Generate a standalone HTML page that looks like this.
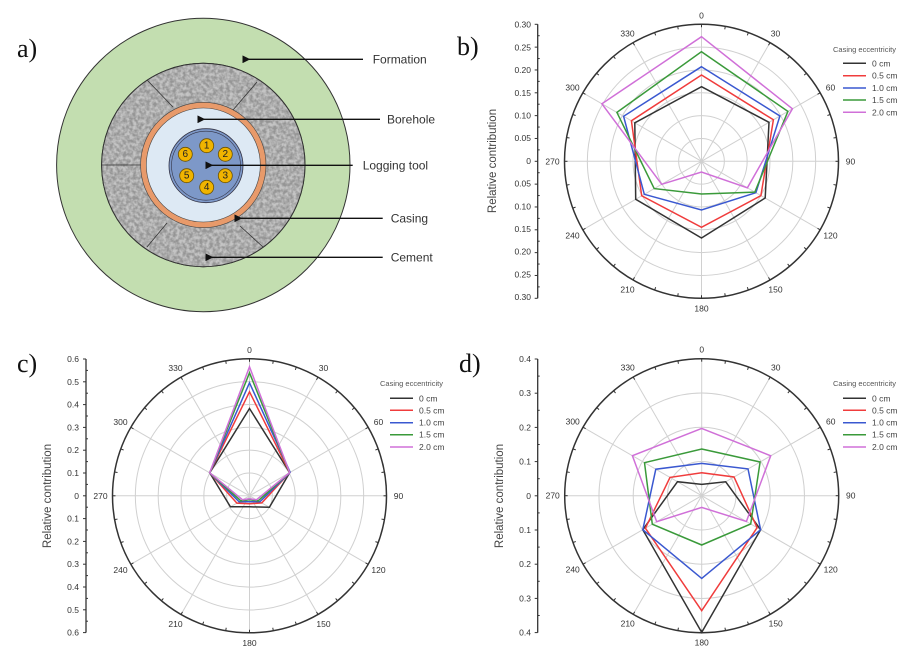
<!DOCTYPE html>
<html><head><meta charset="utf-8"><style>
html,body{margin:0;padding:0;background:#fff}
svg{display:block}
text{font-family:"Liberation Sans",sans-serif}
.ser{font-family:"Liberation Serif",serif;font-size:26px;fill:#111}
.al{font-size:8.5px;fill:#333;text-anchor:middle;dominant-baseline:central}
.tl{font-size:8.5px;fill:#333;text-anchor:end;dominant-baseline:central}
.yl{font-size:11.5px;fill:#444;text-anchor:middle}
.lt{font-size:7.5px;fill:#555}
.li{font-size:8.5px;fill:#444;dominant-baseline:central}
.an{font-size:12px;fill:#333;dominant-baseline:central}
</style></head><body>
<svg id="s" width="918" height="653" viewBox="0 0 918 653" xmlns="http://www.w3.org/2000/svg">
<defs>
<filter id="noise" x="0" y="0" width="100%" height="100%">
<feTurbulence type="fractalNoise" baseFrequency="0.3" numOctaves="2" seed="3"/>
<feColorMatrix type="matrix" values="0 0 0 0 0.3  0 0 0 0 0.3  0 0 0 0 0.3  0 0 0 -2.4 1.7"/>
</filter>
<clipPath id="cem"><path d="M101.7 165a101.7 101.7 0 1 0 203.4 0a101.7 101.7 0 1 0 -203.4 0Z"/></clipPath>
<marker id="ah" markerWidth="6" markerHeight="6" refX="1" refY="3" orient="auto"><path d="M6 0L0 3L6 6Z" fill="#111"/></marker>
</defs>
<!-- Panel a -->
<text class="ser" x="17" y="57">a)</text>
<circle cx="203.3" cy="165" r="146.7" fill="#c3deb0" stroke="#333" stroke-width="1"/>
<circle cx="203.3" cy="165" r="101.7" fill="#b5b5b5" stroke="#333" stroke-width="1"/>
<g clip-path="url(#cem)"><rect x="100" y="62" width="206" height="206" fill="#c4c4c4"/><rect x="100" y="62" width="206" height="206" filter="url(#noise)"/></g>
<g stroke="#333" stroke-width="0.8">
<line x1="101.7" y1="165" x2="141" y2="165"/>
<line x1="147" y1="80" x2="173" y2="107"/>
<line x1="257" y1="82" x2="233" y2="110"/>
<line x1="147" y1="247" x2="167" y2="223"/>
<line x1="263" y1="247" x2="240" y2="226"/>
</g>
<circle cx="203.3" cy="165" r="101.7" fill="none" stroke="#333" stroke-width="1"/>
<circle cx="203.3" cy="165" r="62.7" fill="#e89a6a" stroke="#444" stroke-width="0.6"/>
<circle cx="203.3" cy="165" r="57" fill="#dde9f4" stroke="#444" stroke-width="0.6"/>
<circle cx="206" cy="165.7" r="37" fill="#7d98c8" stroke="#334" stroke-width="0.8"/>
<circle cx="206" cy="165.7" r="34.5" fill="none" stroke="#334" stroke-width="0.6"/>
<g fill="#f0b400" stroke="#6a5000" stroke-width="0.8">
<circle cx="206.7" cy="145.7" r="7"/><circle cx="225.3" cy="154.3" r="7"/><circle cx="225.3" cy="175.7" r="7"/>
<circle cx="206.7" cy="187.3" r="7"/><circle cx="186.7" cy="175.7" r="7"/><circle cx="185.3" cy="154.3" r="7"/>
</g>
<g font-size="10" fill="#222" text-anchor="middle" dominant-baseline="central">
<text x="206.7" y="146">1</text><text x="225.3" y="154.6">2</text><text x="225.3" y="176">3</text>
<text x="206.7" y="187.6">4</text><text x="186.7" y="176">5</text><text x="185.3" y="154.6">6</text>
</g>
<g stroke="#111" stroke-width="1.3">
<line x1="363" y1="59.3" x2="249" y2="59.3" marker-end="url(#ah)"/>
<line x1="380" y1="119.3" x2="204" y2="119.3" marker-end="url(#ah)"/>
<line x1="352.7" y1="165.3" x2="212" y2="165.3" marker-end="url(#ah)"/>
<line x1="382.7" y1="218.3" x2="241" y2="218.3" marker-end="url(#ah)"/>
<line x1="382.7" y1="257.3" x2="212" y2="257.3" marker-end="url(#ah)"/>
</g>
<text class="an" x="372.7" y="59.5">Formation</text>
<text class="an" x="387" y="119.5">Borehole</text>
<text class="an" x="362.7" y="165.5">Logging tool</text>
<text class="an" x="390.7" y="218.5">Casing</text>
<text class="an" x="390.7" y="257.5">Cement</text>

<!-- Panel labels -->
<text class="ser" x="457" y="55">b)</text>
<text class="ser" x="17" y="372">c)</text>
<text class="ser" x="459" y="372">d)</text>

<g id="gb" transform="translate(701.5,161.3)"></g>
<g id="gc" transform="translate(249.5,495.8)"></g>
<g id="gd" transform="translate(701.7,495.7)"></g>

<g transform="translate(701.5,161.3)">
<text class="al" x="0" y="-146">0</text><text class="al" x="74" y="-128">30</text><text class="al" x="129" y="-74">60</text><text class="al" x="149" y="0">90</text><text class="al" x="129" y="74">120</text><text class="al" x="74" y="128">150</text><text class="al" x="0" y="147">180</text><text class="al" x="-74" y="128">210</text><text class="al" x="-129" y="74">240</text><text class="al" x="-149" y="0">270</text><text class="al" x="-129" y="-74">300</text><text class="al" x="-74" y="-128">330</text>
</g>
<g transform="translate(249.5,495.8)">
<text class="al" x="0" y="-146">0</text><text class="al" x="74" y="-128">30</text><text class="al" x="129" y="-74">60</text><text class="al" x="149" y="0">90</text><text class="al" x="129" y="74">120</text><text class="al" x="74" y="128">150</text><text class="al" x="0" y="147">180</text><text class="al" x="-74" y="128">210</text><text class="al" x="-129" y="74">240</text><text class="al" x="-149" y="0">270</text><text class="al" x="-129" y="-74">300</text><text class="al" x="-74" y="-128">330</text>
</g>
<g transform="translate(701.7,495.7)">
<text class="al" x="0" y="-146">0</text><text class="al" x="74" y="-128">30</text><text class="al" x="129" y="-74">60</text><text class="al" x="149" y="0">90</text><text class="al" x="129" y="74">120</text><text class="al" x="74" y="128">150</text><text class="al" x="0" y="147">180</text><text class="al" x="-74" y="128">210</text><text class="al" x="-129" y="74">240</text><text class="al" x="-149" y="0">270</text><text class="al" x="-129" y="-74">300</text><text class="al" x="-74" y="-128">330</text>
</g>

<g>
<text class="tl" x="531" y="24.7">0.30</text><text class="tl" x="531" y="47.4">0.25</text><text class="tl" x="531" y="70.1">0.20</text><text class="tl" x="531" y="92.8">0.15</text><text class="tl" x="531" y="115.5">0.10</text><text class="tl" x="531" y="138.2">0.05</text><text class="tl" x="531" y="161">0</text><text class="tl" x="531" y="183.6">0.05</text><text class="tl" x="531" y="206.3">0.10</text><text class="tl" x="531" y="229">0.15</text><text class="tl" x="531" y="251.7">0.20</text><text class="tl" x="531" y="274.4">0.25</text><text class="tl" x="531" y="297.1">0.30</text>
</g>
<g>
<text class="tl" x="79" y="359">0.6</text><text class="tl" x="79" y="381.8">0.5</text><text class="tl" x="79" y="404.6">0.4</text><text class="tl" x="79" y="427.4">0.3</text><text class="tl" x="79" y="450.2">0.2</text><text class="tl" x="79" y="473">0.1</text><text class="tl" x="79" y="495.8">0</text><text class="tl" x="79" y="518.6">0.1</text><text class="tl" x="79" y="541.4">0.2</text><text class="tl" x="79" y="564.2">0.3</text><text class="tl" x="79" y="587">0.4</text><text class="tl" x="79" y="609.8">0.5</text><text class="tl" x="79" y="632.6">0.6</text>
</g>
<g>
<text class="tl" x="531" y="359">0.4</text><text class="tl" x="531" y="393.2">0.3</text><text class="tl" x="531" y="427.4">0.2</text><text class="tl" x="531" y="461.6">0.1</text><text class="tl" x="531" y="495.8">0</text><text class="tl" x="531" y="530">0.1</text><text class="tl" x="531" y="564.2">0.2</text><text class="tl" x="531" y="598.4">0.3</text><text class="tl" x="531" y="632.6">0.4</text>
</g>
<text class="yl" transform="translate(496,161) rotate(-90)">Relative contribution</text>
<text class="yl" transform="translate(51,496) rotate(-90)">Relative contribution</text>
<text class="yl" transform="translate(503,496) rotate(-90)">Relative contribution</text>

<g id="lb" transform="translate(833,52)">
<text class="lt" x="0" y="0">Casing eccentricity</text>
<text class="li" x="39" y="11.3">0 cm</text><text class="li" x="39" y="23.7">0.5 cm</text><text class="li" x="39" y="36">1.0 cm</text><text class="li" x="39" y="48">1.5 cm</text><text class="li" x="39" y="60.3">2.0 cm</text>
</g>
<g id="lc" transform="translate(380,386)">
<text class="lt" x="0" y="0">Casing eccentricity</text>
<text class="li" x="39" y="12.3">0 cm</text><text class="li" x="39" y="24.3">0.5 cm</text><text class="li" x="39" y="36.7">1.0 cm</text><text class="li" x="39" y="48.7">1.5 cm</text><text class="li" x="39" y="61">2.0 cm</text>
</g>
<g id="ld" transform="translate(833,386)">
<text class="lt" x="0" y="0">Casing eccentricity</text>
<text class="li" x="39" y="12.3">0 cm</text><text class="li" x="39" y="24.3">0.5 cm</text><text class="li" x="39" y="36.7">1.0 cm</text><text class="li" x="39" y="48.7">1.5 cm</text><text class="li" x="39" y="61">2.0 cm</text>
</g>
</svg>
<script>
(function(){
var NS="http://www.w3.org/2000/svg";
function add(p,t,a){var e=document.createElementNS(NS,t);for(var k in a)e.setAttribute(k,a[k]);p.appendChild(e);return e;}
var cols=["#333","#f03c3c","#3a58d0","#3a9a3a","#d070d8"];
var R=137;
function panel(id,nr,data){
 var g=document.getElementById(id);
 for(var i=1;i<nr;i++)add(g,'circle',{cx:0,cy:0,r:R*i/nr,fill:'none',stroke:'#d0d0d0','stroke-width':1});
 for(var a=0;a<360;a+=30){var t=a*Math.PI/180;add(g,'line',{x1:0,y1:0,x2:R*Math.sin(t),y2:-R*Math.cos(t),stroke:'#d0d0d0','stroke-width':1});}
 add(g,'circle',{cx:0,cy:0,r:R,fill:'none',stroke:'#333','stroke-width':1.5});
 for(var a=0;a<360;a+=10){var t=a*Math.PI/180;add(g,'line',{x1:(R-3)*Math.sin(t),y1:-(R-3)*Math.cos(t),x2:R*Math.sin(t),y2:-R*Math.cos(t),stroke:'#333','stroke-width':1});}
 data.forEach(function(d,k){var pts=d.map(function(r,j){var t=j*60*Math.PI/180;return (r*Math.sin(t)).toFixed(1)+','+(-r*Math.cos(t)).toFixed(1);}).join(' ');
  add(g,'polygon',{points:pts,fill:'none',stroke:cols[k],'stroke-width':1.5,'stroke-linejoin':'miter'});});
}
panel('gb',6,[[74.6,78,73.5,76.7,76,77],[86.3,83,68.6,66,69,81],[94.6,90.5,62.8,48.7,66,90],[109.6,99.8,61.6,32.7,54.6,97.7],[124.6,105,53,10.7,46,115]]);
panel('gc',6,[[87.3,46.4,23,11,22,46],[104,46.4,14.2,8,14.6,46],[113,47,12,6,12,46],[123,46.4,10,4,10,46],[129,46.4,8,3,8,46]]);
panel('gd',4,[[11.3,27.7,68,136.7,68,28],[23,37.3,64,115,65,36.6],[32.3,53.5,68,82.7,68,53],[46.7,67.4,56.6,49.3,57,66],[67.3,79.7,51.6,11.7,52,80]]);
var s=document.getElementById('s');
function axis(x,y0,y1,nmaj){
 add(s,'line',{x1:x,y1:y0,x2:x,y2:y1,stroke:'#333','stroke-width':1.3});
 var n=nmaj*2;
 for(var i=0;i<=n;i++){var y=y0+(y1-y0)*i/n;add(s,'line',{x1:x-(i%2?0:3),y1:y,x2:x+(i%2?2:0),y2:y,stroke:'#333','stroke-width':1});}
}
axis(537.7,24.3,298.3,12);axis(86,359,632.6,12);axis(537.7,359,632.6,8);
function leg(id,ys){var g=document.getElementById(id);ys.forEach(function(y,k){add(g,'line',{x1:10,y1:y,x2:33,y2:y,stroke:cols[k],'stroke-width':1.5});});}
leg('lb',[11.3,23.7,36,48,60.3]);leg('lc',[12.3,24.3,36.7,48.7,61]);leg('ld',[12.3,24.3,36.7,48.7,61]);
})();
</script>
</body></html>
